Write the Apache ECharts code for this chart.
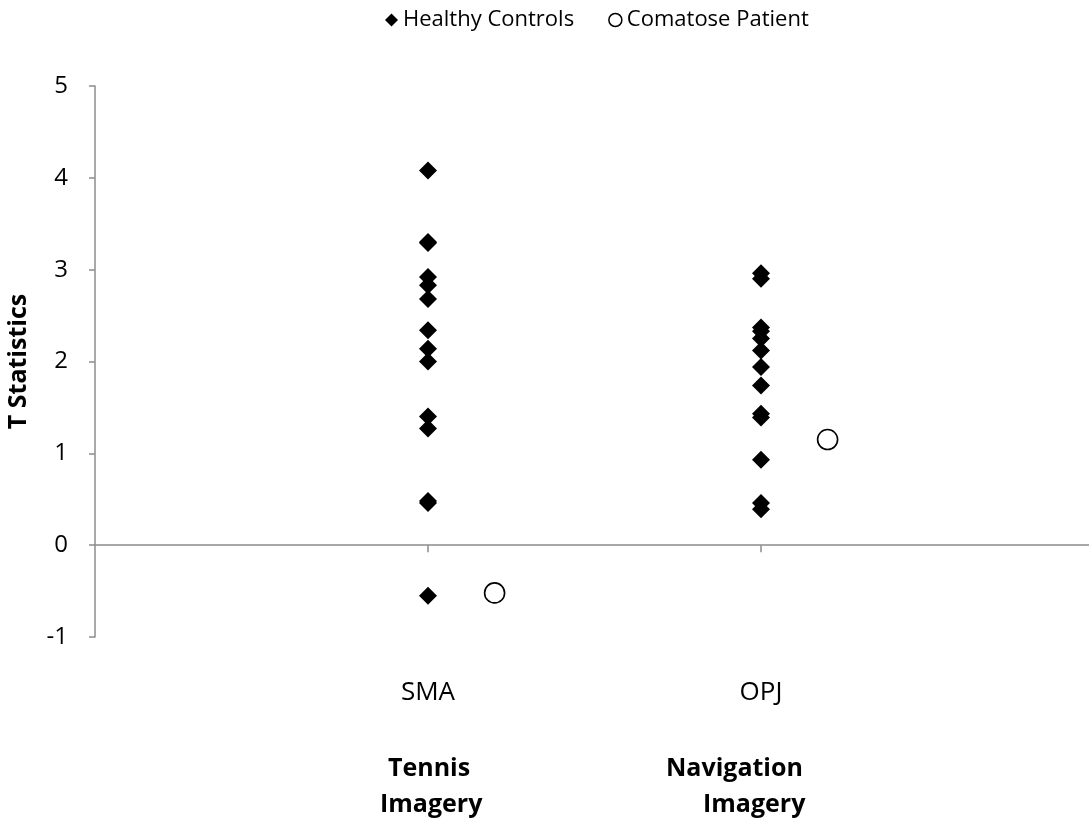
<!DOCTYPE html>
<html lang="en">
<head>
    <meta charset="UTF-8">
    <title>T Statistics</title>
    <script src="https://cdn.jsdelivr.net/npm/echarts@6/dist/echarts.min.js"></script>
    <style>
        html, body { margin: 0; padding: 0; background: #ffffff; }
        #chart { width: 1089px; height: 826px; }
    </style>
</head>
<body>
<div id="chart"></div>
<script>
    // region names on the x axis and where they sit
    var regionNames = ['SMA', 'OPJ'];
    var regionX = [1, 2];
    // comatose patient is drawn a little to the right of each region
    var patientX = [1.2, 2.2];

    // T statistics
    var healthySMA = [4.08, 3.30, 3.29, 2.92, 2.83, 2.68, 2.34, 2.14, 2.00, 1.40, 1.27, 0.48, 0.46, -0.55];
    var healthyOPJ = [2.96, 2.90, 2.37, 2.33, 2.25, 2.12, 1.94, 1.74, 1.43, 1.39, 0.93, 0.46, 0.39];
    var patientT = [-0.52, 1.15];

    var yTicks = [-1, 0, 1, 2, 3, 4, 5];

    var healthyData = [];
    for (var i = 0; i < healthySMA.length; i++) {
        healthyData.push([regionX[0], healthySMA[i]]);
    }
    for (var j = 0; j < healthyOPJ.length; j++) {
        healthyData.push([regionX[1], healthyOPJ[j]]);
    }
    var patientData = [];
    for (var k = 0; k < patientT.length; k++) {
        patientData.push([patientX[k], patientT[k]]);
    }

    var font = '"Open Sans", "Noto Sans", sans-serif';
    var axisGray = '#8c8c8c';
    var boldFont = 'bold 25px ' + font;

    var option = {
        animation: false,
        textStyle: { fontFamily: font },
        legend: {
            top: 4,
            left: 380,
            itemWidth: 13,
            itemHeight: 13,
            itemGap: 34,
            textStyle: { fontSize: 22, color: '#000', fontFamily: font },
            data: [
                { name: 'Healthy Controls', icon: 'diamond', itemStyle: { color: '#000' } },
                { name: 'Comatose Patient', icon: 'circle',
                  itemStyle: { color: '#fff', borderColor: '#000', borderWidth: 1.5 } }
            ]
        },
        grid: { left: 95, right: 0, top: 86, bottom: 189, containLabel: false, outerBoundsMode: 'none' },
        xAxis: [
            {
                type: 'value',
                min: 0,
                max: 2.985,
                axisLine: { onZero: true, lineStyle: { color: axisGray, width: 1.5 } },
                axisTick: { show: true, customValues: regionX, length: 7, lineStyle: { color: axisGray, width: 1.5 } },
                axisLabel: { show: false },
                splitLine: { show: false }
            },
            {
                type: 'value',
                position: 'bottom',
                min: 0,
                max: 2.985,
                axisLine: { show: false, onZero: false },
                axisTick: { show: false },
                splitLine: { show: false },
                axisLabel: {
                    customValues: regionX,
                    margin: 43,
                    fontSize: 26,
                    color: '#000',
                    formatter: function (v) {
                        var idx = regionX.indexOf(v);
                        return idx >= 0 ? regionNames[idx] : '';
                    }
                }
            }
        ],
        yAxis: {
            type: 'value',
            min: yTicks[0],
            max: yTicks[yTicks.length - 1],
            interval: 1,
            name: 'T Statistics',
            nameLocation: 'middle',
            nameGap: 64,
            nameRotate: 90,
            nameTextStyle: { fontSize: 25, fontWeight: 'bold', color: '#000' },
            axisLine: { show: true, lineStyle: { color: axisGray, width: 1.5 } },
            axisTick: { show: true, length: 6, lineStyle: { color: axisGray, width: 1.5 } },
            axisLabel: { fontSize: 24, color: '#000', margin: 27 },
            splitLine: { show: false }
        },
        graphic: [
            { type: 'text', left: 388, top: 756, style: { text: 'Tennis', font: boldFont, fill: '#000' } },
            { type: 'text', left: 380, top: 792, style: { text: 'Imagery', font: boldFont, fill: '#000' } },
            { type: 'text', left: 666, top: 756, style: { text: 'Navigation', font: boldFont, fill: '#000' } },
            { type: 'text', left: 703, top: 792, style: { text: 'Imagery', font: boldFont, fill: '#000' } }
        ],
        series: [
            {
                name: 'Healthy Controls',
                type: 'scatter',
                symbol: 'diamond',
                symbolSize: 18,
                itemStyle: { color: '#000', opacity: 1 },
                data: healthyData
            },
            {
                name: 'Comatose Patient',
                type: 'scatter',
                symbol: 'circle',
                symbolSize: 20,
                itemStyle: { color: '#fff', borderColor: '#000', borderWidth: 1.6, opacity: 1 },
                data: patientData
            }
        ]
    };

    var chart = echarts.init(document.getElementById('chart'));
    chart.setOption(option);
</script>
</body>
</html>
